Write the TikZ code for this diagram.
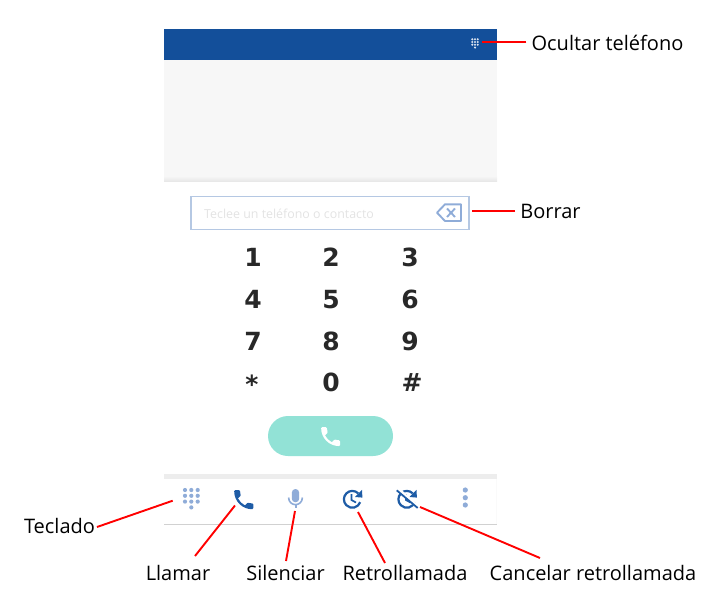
\documentclass[tikz,border=0pt]{standalone}
\usepackage{fontspec}
\setmainfont{Open Sans}
\newfontfamily\digitfont{DejaVu Sans}[BoldFont={DejaVu Sans Bold}]
\definecolor{hdrblue}{HTML}{134F9A}
\definecolor{iconblue}{HTML}{1E5CA6}
\definecolor{paleblue}{HTML}{8FACD8}
\definecolor{boxblue}{HTML}{B5C8E3}
\definecolor{mint}{HTML}{92E2D6}
\definecolor{digitgrey}{HTML}{282828}
\tikzset{
  lbl/.style={inner sep=0pt,text=black,font=\fontsize{20}{24}\selectfont},
  digit/.style={inner sep=0pt,text=digitgrey,font=\digitfont\bfseries\fontsize{25}{28}\selectfont},
  callout/.style={draw=red,line width=1.9pt},
  tb/.style={line width=2.2pt,draw=iconblue},
}
\newcommand{\phoneglyph}[4]{%
  \fill[#4,shift={(#1,#2)},x=#3pt,y=-#3pt]
    (6.62,10.79) .. controls (8.06,13.62) and (10.38,15.93) .. (13.21,17.38)
    -- (15.41,15.18) .. controls (15.68,14.91) and (16.08,14.82) .. (16.43,14.94)
    .. controls (17.55,15.31) and (18.76,15.51) .. (20,15.51)
    .. controls (20.55,15.51) and (21,15.96) .. (21,16.51)
    -- (21,20) .. controls (21,20.55) and (20.55,21) .. (20,21)
    .. controls (10.61,21) and (3,13.39) .. (3,4)
    .. controls (3,3.45) and (3.45,3) .. (4,3)
    -- (7.5,3) .. controls (8.05,3) and (8.5,3.45) .. (8.5,4)
    .. controls (8.5,5.25) and (8.7,6.45) .. (9.07,7.57)
    .. controls (9.18,7.92) and (9.1,8.31) .. (8.82,8.59) -- cycle;}
\begin{document}
\begin{tikzpicture}[x=1pt,y=-1pt]
\useasboundingbox (0,0) rectangle (720,599);
% header and panel
\fill[hdrblue] (164,29) rectangle (497,60);
\fill[black!3] (164,60) rectangle (497,176);
\shade[top color=black!3,bottom color=black!9] (164,176) rectangle (497,181);
% dial icon in header
\foreach \px in {472.3,475,477.7}\foreach \py in {39.3,42,44.7}
  \fill[white!85!hdrblue] (\px,\py) circle (1.15);
\fill[white!85!hdrblue] (475,47.6) circle (1.15);
% input box
\draw[boxblue,line width=1.5pt] (191.2,196.5) rectangle (469,229.5);
\node[anchor=west,inner sep=0pt,text=black!11,font=\fontsize{12.4}{14}\selectfont] (hint) at (204,213.5) {Teclee un teléfono o contacto};
\draw[paleblue,line width=1.9pt,line join=round] (437,212.7) -- (445,204.3) -- (461,204.3) -- (461,221) -- (445,221) -- cycle;
\draw[paleblue,line width=1.9pt] (447,208.5) -- (455,217) (455,208.5) -- (447,217);
% digits
\node[digit] (d1) at (253,257.5) {1};
\node[digit] (d2) at (331,257.5) {2};
\node[digit] (d3) at (410,257.5) {3};
\node[digit] (d4) at (253,299.5) {4};
\node[digit] (d5) at (331,299.5) {5};
\node[digit] (d6) at (410,299.5) {6};
\node[digit] (d7) at (253,341) {7};
\node[digit] (d8) at (331,341) {8};
\node[digit] (d9) at (410,341) {9};
\node[digit] (dstar) at (252,384) {*};
\node[digit] (d0) at (331,382.5) {0};
\node[digit] (dhash) at (412,382.5) {\#};
% call button
\fill[mint] (268,416) [rounded corners=20pt] rectangle (393,456);
\phoneglyph{318}{424}{1.05}{white}
% toolbar
\fill[black!7] (164,474) rectangle (497,479);
\fill[black!2] (496,479) rectangle (497,524);
\fill[black!18] (164,524) rectangle (497,525.2);
\foreach \px in {185,191.3,197.7}\foreach \py in {490,495.8,501.6}
  \fill[paleblue] (\px,\py) circle (2.1);
\fill[paleblue] (191.3,507.4) circle (2.1);
\phoneglyph{231}{487}{1.06}{iconblue}
% microphone
\fill[paleblue,rounded corners=3.6pt] (291.8,489) rectangle (299.2,502.3);
\draw[paleblue,line width=1.6pt] (288.6,497.5) .. controls (288.8,507) and (302.2,507) .. (302.4,497.5);
\draw[paleblue,line width=2pt] (295.5,504.5) -- (295.5,508.2);
% callback
\draw[tb] (352.3,499.3) ++(-45:8.4) arc (-45:-340:8.4);
\fill[iconblue] (355,497) -- (362.4,497.6) -- (362,489.8) -- cycle;
\draw[iconblue,line width=1.7pt] (351.5,494) -- (351.5,500) -- (356,502.5);
% cancel callback
\draw[tb] (406.8,499.3) ++(-45:8.4) arc (-45:-340:8.4);
\fill[iconblue] (409.5,497) -- (416.9,497.6) -- (416.5,489.8) -- cycle;
\draw[iconblue,line width=1.7pt] (406,494) -- (406,500) -- (410.5,502.5);
\draw[white,line width=3.4pt] (398.8,489.8) -- (418.8,507.6);
\draw[iconblue,line width=1.8pt] (396.7,490.3) -- (417.7,508);
% more
\foreach \py in {490,497.7,505} \fill[paleblue] (465.3,\py) circle (2.6);
% labels
\node[lbl] (lblOcultar) at (607.5,43) {Ocultar teléfono};
\node[lbl] (lblBorrar) at (550.5,211) {Borrar};
\node[lbl] (lblTeclado) at (59.5,526) {Teclado};
\node[lbl] (lblLlamar) at (178,573) {Llamar};
\node[lbl] (lblSilenciar) at (285.5,573) {Silenciar};
\node[lbl] (lblRetro) at (405,573) {Retrollamada};
\node[lbl] (lblCancelar) at (593,573) {Cancelar retrollamada};
% connector ends at the icons
\coordinate (tipDial) at (482,42);
\coordinate (tipBack) at (472,211);
\coordinate (tipKeys) at (172.7,500.7);
\coordinate (tipCall) at (235,505.5);
\coordinate (tipMic) at (295,511);
\coordinate (tipRetro) at (358,512);
\coordinate (tipCancel) at (420,507);
\draw[callout] (lblOcultar.west |- tipDial) ++(-5,0) -- (tipDial);
\draw[callout] (lblBorrar.west |- tipBack) ++(-5,0) -- (tipBack);
\draw[callout] (97,527) coordinate (endKeys) -- (tipKeys);
\draw[callout] (195,556) coordinate (endCall) -- (tipCall);
\draw[callout] (286,561) coordinate (endMic) -- (tipMic);
\draw[callout] (385,563) coordinate (endRetro) -- (tipRetro);
\draw[callout] (540,558) coordinate (endCancel) -- (tipCancel);
\end{tikzpicture}
\end{document}
